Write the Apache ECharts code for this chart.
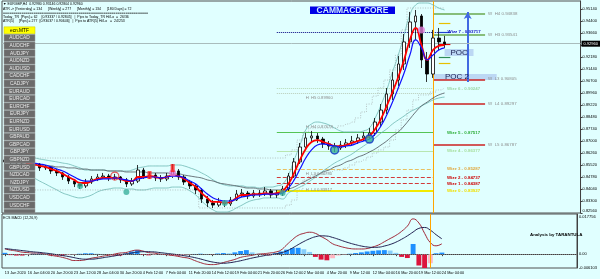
<!DOCTYPE html>
<html><head><meta charset="utf-8">
<script src="https://cdn.jsdelivr.net/npm/echarts@6/dist/echarts.min.js"></script>
<style>html,body{margin:0;padding:0;background:#e0ffff}#c{width:600px;height:279px}</style>
</head><body><div id="c"></div>
<script>
// ---------- DATA ----------
const timeLabels = ['13 Jan 2020','16 Jan 04:00','20 Jan 20:00','23 Jan 12:00','28 Jan 04:00','30 Jan 20:00','4 Feb 12:00','7 Feb 04:00','11 Feb 20:00','14 Feb 12:00','19 Feb 04:00','21 Feb 20:00','26 Feb 12:00','2 Mar 04:00','4 Mar 20:00','9 Mar 12:00','12 Mar 04:00','16 Mar 20:00','19 Mar 12:00','24 Mar 04:00'];
const priceTicks = {min:0.8256, step:0.0074};
const opens = [
.8583,.8571,.8583,.8564,.8577,.8552,.8558,.8534,.8540,.8515,
.8503,.8478,.8453,.8435,.8423,.8447,.8466,.8478,.8484,.8472,
.8478,.8460,.8435,.8453,.8521,.8484,.8490,.8472,.8466,.8484,
.8515,.8478,.8447,.8423,.8398,.8342,.8318,.8305,.8324,.8312,
.8336,.8373,.8379,.8361,.8379,.8373,.8392,.8367,.8379,.8404,
.8484,.8571,.8663,.8719,.8731,.8712,.8682,.8669,.8657,.8675,
.8688,.8700,.8719,.8731,.8749,.8817,.8891,.8990,.9076,.9175,
.9311,.9434,.9471,.9200,.9113,.9335,.9311];
const closes = [
.8571,.8583,.8564,.8577,.8552,.8558,.8534,.8540,.8515,.8503,
.8478,.8453,.8435,.8423,.8447,.8466,.8478,.8484,.8472,.8478,
.8460,.8435,.8453,.8521,.8484,.8490,.8472,.8466,.8484,.8515,
.8478,.8447,.8423,.8398,.8342,.8318,.8305,.8324,.8312,.8336,
.8373,.8379,.8361,.8379,.8373,.8392,.8367,.8379,.8404,.8484,
.8571,.8663,.8719,.8731,.8712,.8682,.8669,.8657,.8675,.8688,
.8700,.8719,.8731,.8749,.8817,.8891,.8990,.9076,.9175,.9311,
.9434,.9471,.9200,.9113,.9335,.9311,.9296];
const lows = [
.8552,.8558,.8546,.8552,.8534,.8540,.8515,.8521,.8497,.8484,
.8460,.8435,.8416,.8404,.8410,.8435,.8453,.8466,.8453,.8460,
.8441,.8416,.8423,.8441,.8466,.8466,.8453,.8447,.8453,.8472,
.8460,.8429,.8404,.8373,.8318,.8293,.8287,.8293,.8293,.8299,
.8330,.8355,.8342,.8349,.8355,.8361,.8349,.8349,.8361,.8392,
.8472,.8558,.8645,.8694,.8688,.8657,.8645,.8632,.8645,.8657,
.8669,.8682,.8700,.8712,.8731,.8793,.8867,.8953,.9039,.9138,
.9274,.9323,.9150,.9064,.9089,.9261,.9274];
const highs = [
.8601,.8595,.8595,.8595,.8589,.8571,.8564,.8552,.8546,.8527,
.8509,.8490,.8466,.8447,.8466,.8484,.8497,.8503,.8497,.8497,
.8484,.8472,.8472,.8552,.8534,.8509,.8503,.8490,.8503,.8558,
.8527,.8490,.8460,.8435,.8410,.8361,.8336,.8349,.8336,.8355,
.8398,.8404,.8392,.8398,.8398,.8416,.8404,.8398,.8423,.8503,
.8595,.8688,.8749,.8762,.8749,.8725,.8700,.8688,.8700,.8712,
.8731,.8743,.8756,.8780,.8842,.8928,.9027,.9125,.9224,.9360,
.9496,.9508,.9483,.9249,.9385,.9397,.9348];
const redMA = [
.8577,.8577,.8571,.8571,.8564,.8558,.8546,.8540,.8527,.8515,
.8497,.8478,.8460,.8441,.8441,.8453,.8466,.8472,.8472,.8472,
.8466,.8453,.8453,.8478,.8478,.8484,.8478,.8472,.8478,.8490,
.8484,.8466,.8441,.8416,.8379,.8349,.8324,.8324,.8318,.8324,
.8349,.8367,.8367,.8373,.8373,.8379,.8373,.8379,.8392,.8435,
.8503,.8583,.8651,.8694,.8706,.8694,.8682,.8669,.8669,.8675,
.8688,.8700,.8712,.8731,.8774,.8836,.8916,.9002,.9095,.9200,
.9323,.9397,.9292,.9200,.9261,.9286,.9292];
const blueMA = [
.8583,.8583,.8577,.8577,.8571,.8564,.8558,.8552,.8540,.8527,
.8515,.8497,.8478,.8460,.8453,.8453,.8460,.8466,.8466,.8472,
.8466,.8460,.8453,.8466,.8472,.8478,.8478,.8472,.8478,.8484,
.8484,.8472,.8453,.8435,.8404,.8373,.8349,.8336,.8330,.8330,
.8342,.8355,.8361,.8367,.8367,.8373,.8373,.8373,.8379,.8410,
.8460,.8527,.8595,.8645,.8675,.8682,.8675,.8669,.8663,.8669,
.8675,.8688,.8700,.8712,.8743,.8793,.8860,.8940,.9027,.9119,
.9230,.9323,.9274,.9200,.9230,.9261,.9274];
const bbUpper = [
.8595,.8601,.8601,.8601,.8595,.8595,.8589,.8583,.8577,.8571,
.8564,.8558,.8546,.8534,.8521,.8521,.8521,.8521,.8515,.8515,
.8515,.8515,.8521,.8534,.8540,.8546,.8546,.8546,.8546,.8552,
.8552,.8546,.8534,.8521,.8503,.8484,.8460,.8441,.8429,.8423,
.8423,.8423,.8416,.8416,.8410,.8416,.8416,.8423,.8435,.8490,
.8583,.8675,.8768,.8805,.8817,.8811,.8799,.8780,.8762,.8756,
.8756,.8756,.8762,.8780,.8842,.8922,.9015,.9126,.9230,.9354,
.9477,.9539,.9551,.9551,.9539,.9520,.9508];
const bbLower = [
.8521,.8515,.8509,.8497,.8484,.8472,.8453,.8435,.8416,.8398,
.8379,.8367,.8355,.8349,.8355,.8367,.8386,.8398,.8404,.8410,
.8410,.8404,.8404,.8398,.8398,.8404,.8410,.8410,.8410,.8416,
.8416,.8410,.8392,.8367,.8330,.8299,.8275,.8262,.8262,.8268,
.8287,.8305,.8324,.8336,.8342,.8349,.8349,.8349,.8342,.8379,
.8398,.8416,.8435,.8460,.8484,.8515,.8540,.8564,.8583,.8601,
.8620,.8645,.8669,.8694,.8719,.8749,.8774,.8805,.8830,.8854,
.8879,.8897,.8916,.8934,.8953,.8965,.8971];
const slowMA = [
.8564,.8564,.8558,.8558,.8558,.8552,.8552,.8546,.8546,.8540,
.8540,.8534,.8534,.8527,.8527,.8521,.8521,.8521,.8515,.8515,
.8515,.8509,.8509,.8509,.8509,.8503,.8503,.8503,.8503,.8497,
.8497,.8490,.8484,.8478,.8472,.8460,.8453,.8441,.8435,.8429,
.8423,.8416,.8410,.8410,.8404,.8404,.8398,.8398,.8398,.8404,
.8416,.8435,.8453,.8472,.8490,.8509,.8521,.8540,.8552,.8571,
.8583,.8601,.8614,.8632,.8651,.8675,.8700,.8731,.8756,.8793,
.8836,.8879,.8916,.8940,.8965,.8984,.8996];
const upperStep = [
.8595,.8595,.8595,.8595,.8595,.8595,.8595,.8595,.8595,.8595,
.8595,.8595,.8595,.8595,.8595,.8595,.8595,.8595,.8595,.8595,
.8595,.8595,.8595,.8595,.8595,.8595,.8595,.8595,.8595,.8595,
.8595,.8595,.8595,.8595,.8595,.8595,.8595,.8595,.8595,.8595,
.8595,.8595,.8595,.8595,.8595,.8595,.8595,.8595,.8595,.8614,
.8645,.8706,.8756,.8780,.8780,.8780,.8780,.8780,.8793,.8805,
.8817,.8842,.8879,.8928,.8977,.9027,.9076,.9138,.9230,.9385,
.9520,.9520,.9520,.9520,.9520,.9520,.9520];
const lowerStep = [
.8398,.8398,.8398,.8398,.8398,.8398,.8398,.8398,.8398,.8398,
.8398,.8398,.8398,.8398,.8398,.8398,.8398,.8398,.8398,.8398,
.8398,.8398,.8398,.8398,.8398,.8398,.8398,.8398,.8398,.8398,
.8398,.8398,.8398,.8398,.8287,.8287,.8287,.8287,.8287,.8287,
.8287,.8287,.8287,.8287,.8287,.8287,.8287,.8287,.8287,.8305,
.8336,.8398,.8460,.8484,.8497,.8497,.8509,.8521,.8521,.8534,
.8552,.8571,.8583,.8601,.8626,.8645,.8663,.8706,.8768,.8830,
.8891,.8953,.8984,.8984,.9002,.9015,.9027];
const macdLine = [
0.0023,0.0018,0.0014,0.0009,0.0007,0.0005,0.0005,0,-0.0005,-0.0009,
-0.0014,-0.0021,-0.0028,-0.0028,-0.0025,-0.0018,-0.0014,-0.0009,-0.0005,0,
0.0005,0.0007,0.0014,0.0018,0.0014,0.0007,0.0005,0,-0.0002,-0.0005,
-0.0009,-0.0014,-0.0018,-0.0028,-0.0037,-0.0044,-0.0046,-0.0044,-0.0037,-0.003,
-0.0023,-0.0014,-0.0009,-0.0005,0,0.0002,0.0005,0.0009,0.0018,0.0041,
0.0064,0.0083,0.0092,0.0097,0.0092,0.0078,0.0064,0.0046,0.0037,0.003,
0.0025,0.0023,0.0023,0.0025,0.0032,0.0041,0.0055,0.0069,0.0083,0.0101,
0.0124,0.0156,0.0138,0.0092,0.0051,0.0037,0.0046];
const signalLine = [
0.0025,0.0022,0.0019,0.0016,0.0013,0.001,0.0008,0.0005,0.0002,-0.0002,
-0.0006,-0.001,-0.0015,-0.002,-0.0022,-0.0022,-0.002,-0.0016,-0.0012,-0.0008,
-0.0003,0.0001,0.0005,0.0009,0.0011,0.0011,0.001,0.0007,0.0004,0.0001,
-0.0002,-0.0006,-0.001,-0.0015,-0.0021,-0.0028,-0.0034,-0.0038,-0.004,-0.0038,
-0.0034,-0.0029,-0.0023,-0.0017,-0.0012,-0.0007,-0.0003,0.0001,0.0006,0.0014,
0.0027,0.0042,0.0056,0.0068,0.0077,0.0081,0.008,0.0074,0.0066,0.0057,
0.0049,0.0042,0.0036,0.0032,0.003,0.0031,0.0036,0.0043,0.0053,0.0066,
0.0081,0.0098,0.0114,0.0118,0.0106,0.0086,0.0068];
const macdHist = [
0.0006,-0.0004,-0.0006,-0.0006,-0.0003,0.0002,0.0003,0.0002,-0.0005,-0.0006,
-0.0006,-0.0004,-0.0002,0.0002,0.0004,0.0004,0.0002,0.0001,-0.0002,-0.0006,
-0.0006,0.0003,0.0012,0.0018,-0.0003,-0.0005,-0.0003,0.0001,-0.0002,-0.0005,
-0.0006,-0.0005,-0.0002,0.0001,0.0002,0.0001,-0.0001,0.0003,0.0005,0.0004,
0.0008,0.0014,0.0018,0.0008,0.0002,-0.0003,-0.0005,0.0004,0.0012,0.002,
0.0027,0.0028,0.0022,0.001,-0.0012,-0.0024,-0.0027,-0.0018,-0.0006,-0.0002,
0.0002,0.0005,0.0008,0.0012,0.0015,0.0017,0.0018,0.0016,0.0006,-0.0012,
-0.0017,0.0045,-0.005,-0.0065,-0.004,0.0004,0.0007];
const macdRange = {min:-0.006103, max:0.017756};
const currentPrice = 0.92960;
const tealDots = [[13,0.8423],[21,0.8386],[38,0.8318],[48,0.8379]];
const blueRings = [[57,0.8645],[63,0.8712]];
const redRings = [[19,0.8484]];
const pinkDots = [[29,0.8503],[72,0.9385]];
const redFlags = [[25,0.8490],[29,0.8533]];
const wizzNames = ['Wizz 7','Wizz 6','Wizz 5','Wizz 4','Wizz 3','Wizz 2','Wizz 1','Wizz 0'];
const wizzValues = [0.93717,0.90247,0.87517,0.86377,0.85287,0.84737,0.84387,0.83927];
const weeklyNames = ['W  H4','W  H3','W  L3','W  L4','W  L5'];
const weeklyValues = [0.94838,0.93541,0.90805,0.89297,0.86787];
const hNames = ['H  H5','H  H4','H  L3','H  L4'];
const hValues = [0.89960,0.87678,0.84780,0.83917];
const pocNames = ['POC','POC 2'];
const pocTop = [0.92673,0.91132];
const pocBottom = [0.92242,0.90762];
const arrowRange = [0.9064,0.9496];
const sideDashValues = [0.94277,0.93717,0.92982,0.92180,0.91810];
const pairButtons = ['ecn.MTF','AUDCAD','AUDCHF','AUDJPY','AUDNZD','AUDUSD','CADCHF','CADJPY','EURAUD','EURCAD','EURCHF','EURJPY','EURNZD','EURUSD','GBPAUD','GBPCAD','GBPJPY','GBPNZD','GBPUSD','NZDCAD','NZDJPY','NZDUSD','USDCAD','USDCHF','USDJPY'];
const headerLines = [
'\u25BC EURGBP,H4  0.92980 0.93146 0.92804 0.92960',
'ATR -> [Yesterday] = 134      [Weekly] = 277      [Monthly] = 134      [180 Days] = 72',
'=======================================================================',
'Today_TR  [Pips] = 62    [0.93337 / 0.92845]   |  Pips to Today_TR Hi/Lo  =  26/36',
'ATR(5)     [Pips] = 277  [0.93037 / 0.90646]   |  Pips to ATR(5) Hi/Lo   =  24/253'];

// ---------- CHART ----------
const FONT = 'Liberation Sans, Arial, sans-serif';
const N = 100;
const cats = Array.from({length:N}, (_, i) => 'b' + i);
const ohlc = opens.map((o, i) => [o, closes[i], lows[i], highs[i]]);
const near = (a, b) => Math.abs(a - b) < 1e-7;
const isLabelIdx = (i) => i % 4 === 0 && i / 4 < timeLabels.length;

const wizzLine = ['#000080','#b4d8b4','#55c455','#b8e6b0','#e8c060','#d23a3a','#d23a3a','#f2ea00'];
const wizzType = ['dotted','dotted','solid','solid','dashed','dashed','dashed','solid'];
const wizzWidth = [1,1,1,1,1,1,1,2];
const wizzText = ['#1010c0','#9fd8a8','#2fae3a','#a8e0a0','#e0a840','#cc0000','#cc0000','#f0e000'];
const weeklyColor = ['#6aa84f','#6aa84f','#cc2222','#cc2222','#cc2222'];
const sideDashColor = ['#e6c000','#2040d0','#e00000','#2e8b57','#e6c000'];

const lines = [];
wizzValues.forEach((v, k) => {
  lines.push([
    {coord:[47, v], lineStyle:{color:wizzLine[k], type:wizzType[k], width:wizzWidth[k]},
     label:{show:true, position:'end', distance:k === 0 ? 3 : 14, formatter:wizzNames[k] + ' - ' + v.toFixed(5),
       color:wizzText[k], fontSize:4.4, fontWeight:'bold', fontFamily:FONT}},
    {coord:[k === 0 ? 76 : 74, v]}
  ]);
});
weeklyValues.forEach((v, k) => {
  lines.push([
    {coord:[74, v], lineStyle:{color:weeklyColor[k], type:'solid', width:1.5},
     label:{show:true, position:'end', distance:3, formatter:weeklyNames[k] + ' ' + v.toFixed(5),
       color:'#8c8c8c', fontSize:4.4, fontFamily:FONT}},
    {coord:[83, v]}
  ]);
});
lines.push([{coord:[47, hValues[0]], lineStyle:{color:'#b8ccb8', type:'dotted', width:1}, label:{show:false}}, {coord:[74, hValues[0]]}]);
sideDashValues.forEach((v, k) => {
  lines.push([{coord:[75, v], lineStyle:{color:sideDashColor[k], type:'solid', width:1.2}, label:{show:false}}, {coord:[77, v]}]);
});
lines.push([
  {coord:[80, arrowRange[0]], symbol:'none', lineStyle:{color:'#4169e1', type:'solid', width:2}, label:{show:false}},
  {coord:[80, arrowRange[1]], symbol:'arrow', symbolSize:[6, 7]}
]);
lines.push({xAxis:74, lineStyle:{color:'#ffa500', type:'solid', width:1}, label:{show:false}});
lines.push({yAxis:currentPrice, lineStyle:{color:'#a9bcbc', type:'solid', width:1},
  label:{show:true, position:'end', distance:1, formatter:currentPrice.toFixed(5), backgroundColor:'#000', color:'#fff',
    padding:[1, 2], fontSize:4, fontFamily:FONT}});

const hOffsets = [[0, 5], [0, -3], [0, -3], [0, -1]];
const hPoints = hValues.map((v, k) => ({coord:[52, v], symbolSize:0,
  label:{show:true, position:'right', distance:0, offset:hOffsets[k], formatter:hNames[k] + ' ' + v.toFixed(5), color:'#8c8c8c', fontSize:4.2, fontFamily:FONT}}));

const pocAreas = pocNames.map((n, k) => [
  {coord:[k === 0 ? 76 : 74, pocTop[k]], itemStyle:{color:'#bcd8f4', opacity:1},
   label:{show:true, position:k === 0 ? 'inside' : 'insideLeft', distance:12, formatter:n, color:'#1a2050', fontSize:8, fontFamily:FONT}},
  {coord:[k === 0 ? 81 : 85, pocBottom[k]]}
]);

const histData = macdHist.map((v, i) => {
  const prev = i > 0 ? macdHist[i - 1] : 0;
  const c = v >= 0 ? (v >= prev ? '#1e90ff' : '#87cefa') : (v <= prev ? '#dc143c' : '#ffb6c1');
  return {value:v, itemStyle:{color:c}};
});

const graphics = [];
headerLines.forEach((t, k) => {
  graphics.push({type:'text', x:3, y:[4, 9, 13, 17.5, 21.5][k], z:50,
    style:{text:t, fontSize:3.5, fontFamily:FONT, fill:'#000', verticalAlign:'middle'}});
});
pairButtons.forEach((p, k) => {
  const y0 = 26.8 + k * 7.6;
  const h = Math.min(7, 213 - y0);
  graphics.push({type:'rect', z:50, shape:{x:4, y:y0, width:31, height:h},
    style:{fill:k === 0 ? '#ffff00' : '#6b6b6b', stroke:k === 0 ? '#c8c800' : '#9a9a9a', lineWidth:0.5}});
  if (h >= 7) graphics.push({type:'text', z:51, x:19.5, y:y0 + 3.6,
    style:{text:p, fontSize:4.8, fontFamily:FONT, fill:k === 0 ? '#000' : '#e8e8e8', align:'center', verticalAlign:'middle'}});
});
graphics.push({type:'rect', z:50, shape:{x:310, y:6.5, width:85, height:7.5}, style:{fill:'#0000e6'}});
graphics.push({type:'text', z:51, x:352.5, y:10.4, style:{text:'CAMMACD CORE', fontSize:8.5, fontWeight:'bold', fontFamily:FONT, fill:'#cfeaff', align:'center', verticalAlign:'middle'}});
graphics.push({type:'text', z:51, x:3, y:217.5, style:{text:'ECS MACD (12,26,9)', fontSize:3.6, fontFamily:FONT, fill:'#000', verticalAlign:'middle'}});
graphics.push({type:'text', z:51, x:530, y:235, style:{text:'Analysis by TARANTULA', fontSize:4.4, fontWeight:'bold', fontFamily:FONT, fill:'#000', verticalAlign:'middle'}});

const option = {
  animation:false,
  backgroundColor:'#e0ffff',
  grid:[
    {left:2, right:18, top:1, height:212, show:true, borderColor:'#505050', borderWidth:1},
    {left:2, right:18, top:214, height:54, show:true, borderColor:'#505050', borderWidth:1}
  ],
  xAxis:[
    {type:'category', data:cats, gridIndex:0, boundaryGap:true, axisLine:{show:false}, axisTick:{show:false}, axisLabel:{show:false}, splitLine:{show:false}},
    {type:'category', data:cats, gridIndex:1, boundaryGap:true, axisLine:{show:true, lineStyle:{color:'#404040'}},
     axisTick:{show:true, length:2, alignWithLabel:true, interval:isLabelIdx, lineStyle:{color:'#404040'}},
     axisLabel:{show:true, fontSize:3.8, color:'#000', fontFamily:FONT, align:'left', margin:2.5, hideOverlap:false,
       interval:isLabelIdx, formatter:(v, i) => isLabelIdx(i) ? timeLabels[i / 4] : ''},
     splitLine:{show:false}}
  ],
  yAxis:[
    {type:'value', gridIndex:0, position:'right', min:priceTicks.min, max:0.95633, interval:priceTicks.step,
     axisLine:{show:true, lineStyle:{color:'#404040'}}, axisTick:{show:true, length:2, lineStyle:{color:'#404040'}},
     splitLine:{show:false},
     axisLabel:{fontSize:4, color:'#000', fontFamily:FONT, margin:2, showMaxLabel:false,
       rich:{b:{fontSize:4, color:'#000', fontFamily:FONT, padding:[0, 0, 5, 0]}},
       formatter:(v) => near(v, 0.9292) ? '' : (near(v, priceTicks.min) ? '{b|' + v.toFixed(5) + '}' : v.toFixed(5))}},
    {type:'value', gridIndex:1, position:'right', min:macdRange.min, max:macdRange.max, interval:-macdRange.min,
     axisLine:{show:true, lineStyle:{color:'#404040'}}, axisTick:{show:false}, splitLine:{show:false},
     axisLabel:{fontSize:4, color:'#000', fontFamily:FONT, margin:2, showMaxLabel:true, showMinLabel:true,
       rich:{a:{fontSize:4, color:'#000', fontFamily:FONT, padding:[6, 0, 0, 0]}},
       formatter:(v) => near(v, 0) ? '0.00' : (near(v, macdRange.max) ? '{a|' + macdRange.max.toFixed(6) + '}' : (near(v, macdRange.min) ? macdRange.min.toFixed(6) : ''))}}
  ],
  graphic:graphics,
  series:[
    {type:'line', name:'bbUpper', data:bbUpper, xAxisIndex:0, yAxisIndex:0, symbol:'none', smooth:true, lineStyle:{color:'#6cb8b2', width:0.8}, z:2},
    {type:'line', name:'bbLower', data:bbLower, xAxisIndex:0, yAxisIndex:0, symbol:'none', smooth:true, lineStyle:{color:'#6cb8b2', width:0.8}, z:2},
    {type:'line', name:'slowMA', data:slowMA, xAxisIndex:0, yAxisIndex:0, symbol:'none', smooth:true, lineStyle:{color:'#4a5058', width:0.8}, z:2},
    {type:'line', name:'upperStep', data:upperStep, xAxisIndex:0, yAxisIndex:0, symbol:'none', step:'middle', lineStyle:{color:'#a0a8a8', width:0.7, type:[1, 1.5]}, z:2},
    {type:'line', name:'lowerStep', data:lowerStep, xAxisIndex:0, yAxisIndex:0, symbol:'none', step:'middle', lineStyle:{color:'#a0a8a8', width:0.7, type:[1, 1.5]}, z:2},
    {type:'candlestick', name:'EURGBP', data:ohlc, xAxisIndex:0, yAxisIndex:0, barWidth:3, z:3,
     itemStyle:{color:'#ffffff', color0:'#000000', borderColor:'#000000', borderColor0:'#000000', borderWidth:0.8},
     markLine:{silent:true, symbol:['none', 'none'], animation:false, data:lines, z:1},
     markPoint:{silent:true, symbol:'circle', data:hPoints},
     markArea:{silent:true, data:pocAreas}},
    {type:'line', name:'redMA', data:redMA, xAxisIndex:0, yAxisIndex:0, symbol:'none', smooth:true, lineStyle:{color:'#ff0000', width:1.8}, z:4},
    {type:'line', name:'blueMA', data:blueMA, xAxisIndex:0, yAxisIndex:0, symbol:'none', smooth:true, lineStyle:{color:'#1010ff', width:1.2}, z:4},
    {type:'scatter', data:tealDots, xAxisIndex:0, yAxisIndex:0, symbolSize:6, itemStyle:{color:'#3ab09c'}, z:5},
    {type:'scatter', data:blueRings, xAxisIndex:0, yAxisIndex:0, symbolSize:8, itemStyle:{color:'#3ab09c', borderColor:'#1030c8', borderWidth:1.5}, z:5},
    {type:'scatter', data:redRings, xAxisIndex:0, yAxisIndex:0, symbolSize:8, itemStyle:{color:'rgba(0,0,0,0)', borderColor:'#e03030', borderWidth:1.2}, z:5},
    {type:'scatter', data:pinkDots, xAxisIndex:0, yAxisIndex:0, symbolSize:7, itemStyle:{color:'#e07ad8'}, z:5},
    {type:'scatter', data:redFlags, xAxisIndex:0, yAxisIndex:0, symbol:'rect', symbolSize:[4, 8], itemStyle:{color:'#ff2020'}, z:5},
    {type:'bar', name:'hist', data:histData, xAxisIndex:1, yAxisIndex:1, barWidth:'85%', z:2,
     markLine:{silent:true, symbol:['none', 'none'], data:[
       {yAxis:0, lineStyle:{color:'#808080', type:'dotted', width:1}, label:{show:false}},
       {xAxis:74, lineStyle:{color:'#ffa500', type:'solid', width:1}, label:{show:false}}]}},
    {type:'line', name:'macd', data:macdLine, xAxisIndex:1, yAxisIndex:1, symbol:'none', smooth:true, lineStyle:{color:'#a02838', width:1}, z:3},
    {type:'line', name:'signal', data:signalLine, xAxisIndex:1, yAxisIndex:1, symbol:'none', smooth:true, lineStyle:{color:'#202050', width:1}, z:3}
  ]
};
const chart = echarts.init(document.getElementById('c'));
chart.setOption(option);
</script>
</body></html>
